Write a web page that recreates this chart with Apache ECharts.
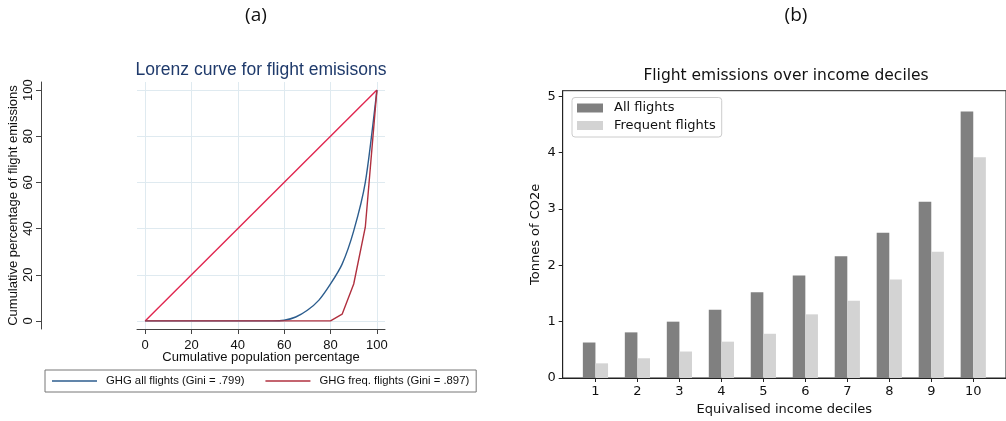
<!DOCTYPE html>
<html>
<head>
<meta charset="utf-8">
<script src="https://cdn.jsdelivr.net/npm/echarts@6/dist/echarts.min.js"></script>
<style>
html,body{margin:0;padding:0;background:#fff;}
#chart{width:1006px;height:421px;}
</style>
</head>
<body>
<div id="chart"></div>
<script>
// ---- Panel (a): Lorenz curves ----
var lorenzX = [0,5,10,15,20,25,30,35,40,45,50,55,60,65,70,75,80,85,90,95,100];
var ghgAll  = [0,0,0,0,0,0,0,0,0,0,0,0,0.3,1.7,4.6,9,16,24.6,39,60,100];
var ghgFreq = [0,0,0,0,0,0,0,0,0,0,0,0,0,0,0,0,0,2.9,16,40.6,100];
var equality = [[0,0],[100,100]];
var lorenzTicks = [0,20,40,60,80,100];
var lorenzNames = ['GHG all flights (Gini = .799)','GHG freq. flights (Gini = .897)'];

// ---- Panel (b): emissions by income decile ----
var deciles = [1,2,3,4,5,6,7,8,9,10];
var allFlights = [0.63,0.81,1.00,1.21,1.52,1.82,2.16,2.58,3.13,4.73];
var frequentFlights = [0.26,0.35,0.47,0.645,0.785,1.13,1.37,1.75,2.24,3.92];
var barTicksY = [0,1,2,3,4,5];

function pairs(xs, ys){ return xs.map(function(x,i){ return [x, ys[i]]; }); }

var stata = "'Liberation Sans', Arial, sans-serif";
var mpl = "'DejaVu Sans', sans-serif";

var chart = echarts.init(document.getElementById('chart'), null, {renderer:'canvas'});
chart.setOption({
  animation: false,
  backgroundColor: '#ffffff',
  title: [
    {text:'(a)', left:256, top:6, textAlign:'center', padding:0,
     textStyle:{fontFamily:"'Liberation Sans Narrow','Open Sans',sans-serif", fontSize:19, fontWeight:'normal', color:'#111'}},
    {text:'(b)', left:796, top:6, textAlign:'center', padding:0,
     textStyle:{fontFamily:"'Liberation Sans Narrow','Open Sans',sans-serif", fontSize:19, fontWeight:'normal', color:'#111'}},
    {text:'Lorenz curve for flight emisisons', left:261, top:61, textAlign:'center', padding:0,
     textStyle:{fontFamily:stata, fontSize:17.5, fontWeight:'normal', color:'#1f3a6b'}},
    {text:'Flight emissions over income deciles', left:786, top:68, textAlign:'center', padding:0,
     textStyle:{fontFamily:mpl, fontSize:15.5, fontWeight:'normal', color:'#111'}}
  ],
  legend: [
    {data: lorenzNames, orient:'horizontal', left:45, top:370, padding:[4,7,4,7],
     icon:'rect', itemWidth:45, itemHeight:1.5, itemGap:21, borderColor:'#777', borderWidth:1,
     textStyle:{fontFamily:stata, fontSize:11.3, color:'#111', padding:[0,0,0,4], lineHeight:14}},
    {data:['All flights','Frequent flights'], orient:'vertical', left:572, top:97.5,
     padding:[4,6,5,5], itemWidth:26, itemHeight:9, itemGap:4.5, borderColor:'#ccc', borderWidth:1,
     borderRadius:3, backgroundColor:'#fff', icon:'rect',
     textStyle:{fontFamily:mpl, fontSize:13, color:'#111', padding:[0,0,0,6]}}
  ],
  grid: [
    {left:137, top:82, width:248, height:247, containLabel:false},
    {left:562.7, top:90.7, width:444.3, height:287.6, containLabel:false,
     show:true, borderColor:'#222', borderWidth:1}
  ],
  xAxis: [
    {type:'value', gridIndex:0, min:-3.5, max:103.5,
     name:'Cumulative population percentage', nameLocation:'middle', nameGap:22, nameMoveOverlap:false,
     nameTextStyle:{fontFamily:stata, fontSize:13, color:'#111'},
     axisLine:{show:true, onZero:false, lineStyle:{color:'#444', width:1}},
     axisTick:{show:true, length:5, customValues: lorenzTicks, lineStyle:{color:'#444'}},
     axisLabel:{customValues: lorenzTicks, fontFamily:stata, fontSize:13, color:'#111', margin:10},
     splitLine:{show:true, lineStyle:{color:'#dfeaf0', width:1}}},
    {type:'value', gridIndex:1, min:0.22, max:10.78,
     name:'Equivalised income deciles', nameLocation:'middle', nameGap:25,
     nameTextStyle:{fontFamily:mpl, fontSize:13, color:'#111'},
     axisLine:{show:true, onZero:false, lineStyle:{color:'#222', width:1}},
     axisTick:{show:true, length:4, customValues: deciles, lineStyle:{color:'#222'}},
     axisLabel:{customValues: deciles, fontFamily:mpl, fontSize:13, color:'#111', margin:7},
     splitLine:{show:false}}
  ],
  yAxis: [
    {type:'value', gridIndex:0, min:-3.5, max:103.5, offset:96,
     name:'Cumulative percentage of flight emissions', nameLocation:'middle', nameGap:21, nameRotate:90,
     nameTextStyle:{fontFamily:stata, fontSize:13, color:'#111'},
     axisLine:{show:true, onZero:false, lineStyle:{color:'#444', width:1}},
     axisTick:{show:true, length:5, customValues: lorenzTicks, lineStyle:{color:'#444'}},
     axisLabel:{customValues: lorenzTicks, rotate:90, fontFamily:stata, fontSize:13, color:'#111', margin:6},
     splitLine:{show:true, lineStyle:{color:'#dfeaf0', width:1}}},
    {type:'value', gridIndex:1, min:0, max:5.1,
     name:'Tonnes of CO2e', nameLocation:'middle', nameGap:21, nameRotate:90,
     nameTextStyle:{fontFamily:mpl, fontSize:13, color:'#111'},
     axisLine:{show:true, onZero:false, lineStyle:{color:'#222', width:1}},
     axisTick:{show:true, length:4, customValues: barTicksY, lineStyle:{color:'#222'}},
     axisLabel:{customValues: barTicksY, fontFamily:mpl, fontSize:13, color:'#111', margin:7},
     splitLine:{show:false}}
  ],
  series: [
    {name:'Line of equality', type:'line', xAxisIndex:0, yAxisIndex:0, data: equality,
     symbol:'none', lineStyle:{color:'#e0264f', width:1.4}, itemStyle:{color:'#e0264f'}, z:3},
    {name:lorenzNames[0], type:'line', xAxisIndex:0, yAxisIndex:0, data: pairs(lorenzX, ghgAll),
     symbol:'none', smooth:0.25, lineStyle:{color:'#2c5d8e', width:1.4}, itemStyle:{color:'#2c5d8e'}, z:4},
    {name:lorenzNames[1], type:'line', xAxisIndex:0, yAxisIndex:0, data: pairs(lorenzX, ghgFreq),
     symbol:'none', lineStyle:{color:'#b0303f', width:1.4}, itemStyle:{color:'#b0303f'}, z:5},
    {name:'All flights', type:'bar', xAxisIndex:1, yAxisIndex:1, data: pairs(deciles, allFlights),
     barWidth:12.6, barGap:'0%', itemStyle:{color:'#808080'}},
    {name:'Frequent flights', type:'bar', xAxisIndex:1, yAxisIndex:1, data: pairs(deciles, frequentFlights),
     barWidth:12.6, barGap:'0%', itemStyle:{color:'#d3d3d3'}}
  ]
});
</script>
</body>
</html>
